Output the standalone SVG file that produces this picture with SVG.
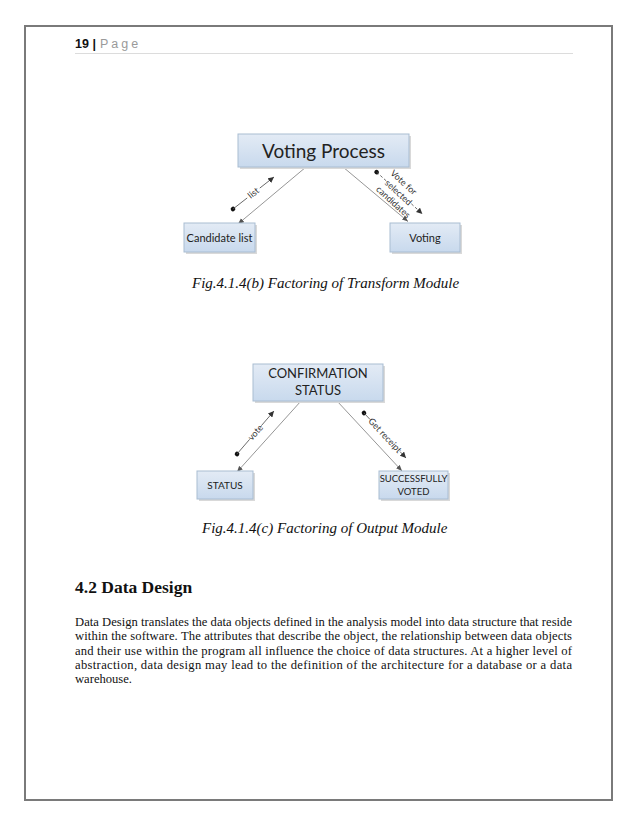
<svg xmlns="http://www.w3.org/2000/svg" width="638" height="826" viewBox="0 0 638 826">
<defs>
<linearGradient id="boxfill" x1="0" y1="0" x2="0" y2="1">
<stop offset="0" stop-color="#e3ebf5"/>
<stop offset="1" stop-color="#c8d9ed"/>
</linearGradient>
<marker id="arr" markerUnits="userSpaceOnUse" markerWidth="7" markerHeight="6" refX="6" refY="3" orient="auto">
<path d="M0,0 L6,3 L0,6 z" fill="#333"/>
</marker>
<marker id="arr2" markerUnits="userSpaceOnUse" markerWidth="7" markerHeight="6" refX="6" refY="3" orient="auto">
<path d="M0,0.5 L6,3 L0,5.5 z" fill="#555"/>
</marker>
</defs>
<style>
.box{fill:url(#boxfill);stroke:#a9bdd2;stroke-width:1}
.shadow{fill:#d9d9d9}
.nt{font-family:Lato,"Open Sans","Liberation Sans",sans-serif;fill:#222;text-anchor:middle}
.conn{stroke:#8a8a8a;stroke-width:0.9;fill:none}
.flow{stroke:#555;stroke-width:0.8;fill:none}
.fl{font-family:Lato,"Open Sans","Liberation Sans",sans-serif;font-size:9px;fill:#333;text-anchor:middle}
.cap{font-family:"Liberation Serif",serif;font-style:italic;font-size:15px;fill:#111}
.body{font-family:"Liberation Serif",serif;font-size:12.6px;fill:#111}
</style>
<rect width="638" height="826" fill="#ffffff"/>
<rect x="25" y="26" width="587" height="774" fill="none" stroke="#7a7a7a" stroke-width="2"/>
<g id="header">
<text x="75" y="48" font-family="'Liberation Sans',sans-serif" font-size="12.5" font-weight="bold" fill="#111">19 |</text>
<text x="100" y="48" font-family="'Liberation Sans',sans-serif" font-size="12.5" fill="#9a9a9a" letter-spacing="3">Page</text>
<line x1="75" y1="53.5" x2="573" y2="53.5" stroke="#dcdcdc" stroke-width="1"/>
</g>
<g id="connectors">
<line class="conn" x1="306" y1="167" x2="238" y2="224" marker-end="url(#arr2)"/>
<line class="conn" x1="343" y1="167" x2="408" y2="221.5" marker-end="url(#arr2)"/>
<line class="conn" x1="301" y1="401" x2="237" y2="472" marker-end="url(#arr2)"/>
<line class="conn" x1="337" y1="401" x2="402" y2="471" marker-end="url(#arr2)"/>
<g transform="translate(253.5,193) rotate(-38)">
<circle cx="-26" cy="0" r="2.3" fill="#111"/>
<line class="flow" x1="-26" y1="0" x2="-8" y2="0"/>
<line class="flow" x1="8" y1="0" x2="26" y2="0" marker-end="url(#arr)"/>
<text class="fl" x="0" y="3">list</text>
</g>
<g transform="translate(399.5,193) rotate(42.4)">
<circle cx="-31" cy="0" r="2.3" fill="#111"/>
<line class="flow" x1="-31" y1="0" x2="-18" y2="0" stroke-dasharray="3,2"/>
<line class="flow" x1="16" y1="0" x2="31" y2="0" stroke-dasharray="3,2" marker-end="url(#arr)"/>
<text class="fl" x="-4" y="-7.5">Vote for</text>
<text class="fl" x="-1" y="3.5">selected</text>
<text class="fl" x="1.5" y="14">candidates</text>
</g>
<g transform="translate(255.5,432.5) rotate(-49.3)">
<circle cx="-28.3" cy="0" r="2.3" fill="#111"/>
<line class="flow" x1="-28.3" y1="0" x2="-9" y2="0"/>
<line class="flow" x1="9" y1="0" x2="28.3" y2="0" marker-end="url(#arr)"/>
<text class="fl" x="0" y="3">vote</text>
</g>
<g transform="translate(385,435.5) rotate(47)">
<circle cx="-30.8" cy="0" r="2.3" fill="#111"/>
<line class="flow" x1="-30.8" y1="0" x2="-22" y2="0"/>
<line class="flow" x1="22" y1="0" x2="30.8" y2="0" marker-end="url(#arr)"/>
<text class="fl" x="0" y="3">Get receipt</text>
</g>
</g>
<g id="voting-process">
<rect class="shadow" x="240" y="136" width="171" height="33"/>
<rect class="box" x="238" y="134" width="171" height="33"/>
<text class="nt" x="323.5" y="158" font-size="19">Voting Process</text>
</g>
<g id="candidate-list">
<rect class="shadow" x="186" y="225" width="71" height="29"/>
<rect class="box" x="184" y="223" width="71" height="29"/>
<text class="nt" x="219.5" y="242" font-size="11">Candidate list</text>
</g>
<g id="voting">
<rect class="shadow" x="392" y="225" width="70" height="29"/>
<rect class="box" x="390" y="223" width="70" height="29"/>
<text class="nt" x="425" y="242" font-size="11">Voting</text>
</g>
<text class="cap" x="192" y="288">Fig.4.1.4(b) Factoring of Transform  Module</text>
<g id="confirmation-status">
<rect class="shadow" x="255" y="366" width="130" height="37"/>
<rect class="box" x="253" y="364" width="130" height="37"/>
<text class="nt" x="318" y="378" font-size="13">CONFIRMATION</text>
<text class="nt" x="318" y="395" font-size="13">STATUS</text>
</g>
<g id="status">
<rect class="shadow" x="199" y="473" width="56" height="28"/>
<rect class="box" x="197" y="471" width="56" height="28"/>
<text class="nt" x="225" y="489" font-size="10">STATUS</text>
</g>
<g id="successfully-voted">
<rect class="shadow" x="381" y="473" width="69" height="28"/>
<rect class="box" x="379" y="471" width="69" height="28"/>
<text class="nt" x="413.5" y="482" font-size="9.5">SUCCESSFULLY</text>
<text class="nt" x="413.5" y="495" font-size="9.5">VOTED</text>
</g>
<text class="cap" x="202" y="533">Fig.4.1.4(c) Factoring of Output Module</text>
<text x="75" y="593" font-family="'Liberation Serif',serif" font-size="17.5" font-weight="bold" fill="#111">4.2 Data Design</text>
<text class="body" x="75" y="626" textLength="497" lengthAdjust="spacing">Data Design translates the data objects defined in the analysis model into data structure that reside</text>
<text class="body" x="75" y="640.3" textLength="497" lengthAdjust="spacing">within the software. The attributes that describe the object, the relationship between data objects</text>
<text class="body" x="75" y="654.6" textLength="497" lengthAdjust="spacing">and their use within the program all influence the choice of data structures. At a higher level of</text>
<text class="body" x="75" y="668.9" textLength="497" lengthAdjust="spacing">abstraction, data design may lead to the definition of the architecture for a database or a data</text>
<text class="body" x="75" y="683.2">warehouse.</text>
</svg>
